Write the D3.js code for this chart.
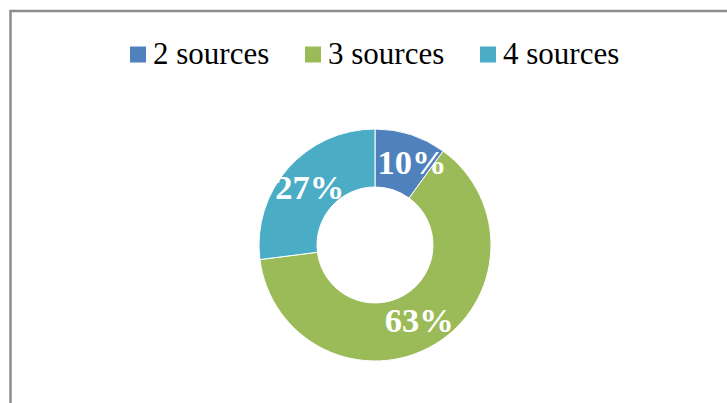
<!DOCTYPE html>
<html>
<head>
<script src="https://cdnjs.cloudflare.com/ajax/libs/d3/7.8.5/d3.min.js"></script>
<style>
  body { margin: 0; background: #fff; }
  svg { display: block; font-family: "Liberation Serif", "Times New Roman", serif; }
</style>
</head>
<body>
<div id="vis"></div>
<script type="text/javascript">

    const categories = ["2 sources", "3 sources", "4 sources"];
    const shares = [10, 63, 27];
    const colors = ["#4F81BD", "#9BBB59", "#4BACC6"];

    const W = 727, H = 403;
    const cx = 375, cy = 245, rOuter = 116, rInner = 58;

    const svg = d3.select("#vis").append("svg").attr("width", W).attr("height", H);

    // chart frame (only top and left edges show in the crop)
    svg.append("rect")
        .attr("x", 10.5).attr("y", 11)
        .attr("width", 760).attr("height", 420)
        .style("fill", "#fff")
        .style("stroke", "#8c8c8c")
        .style("stroke-width", 2.5);

    const color = d3.scaleOrdinal().domain(categories).range(colors);

    // legend
    const legendX = d3.scalePoint().domain(categories).range([130, 480]);
    const legend = svg.append("g").selectAll("g")
        .data(categories)
        .join("g")
        .attr("transform", d => `translate(${legendX(d)},0)`);
    legend.append("rect")
        .attr("x", 0).attr("y", 46.5)
        .attr("width", 16).attr("height", 16)
        .style("fill", d => color(d));
    legend.append("text")
        .attr("x", 23).attr("y", 63.5)
        .style("font-size", "31px")
        .style("fill", "#000")
        .text(d => d);

    // donut
    const pie = d3.pie().sort(null).value(d => d.v);
    const arcs = pie(categories.map((c, i) => ({c: c, v: shares[i]})));
    const arc = d3.arc().innerRadius(rInner).outerRadius(rOuter);

    const g = svg.append("g").attr("transform", `translate(${cx},${cy})`);
    g.selectAll("path")
        .data(arcs)
        .join("path")
        .attr("d", arc)
        .style("fill", d => color(d.data.c))
        .style("stroke", "#fff")
        .style("stroke-width", 1);

    // labels at the ring centroid; the thin slice's label is pushed clockwise a bit
    function labelPos(d) {
        const p = arc.centroid(d);
        if (d.endAngle - d.startAngle < 0.8) p[0] += 10;
        return p;
    }

    g.selectAll("text")
        .data(arcs)
        .join("text")
        .attr("transform", d => `translate(${labelPos(d)})`)
        .attr("text-anchor", "middle")
        .attr("dy", "0.34em")
        .style("font-size", "34.5px")
        .style("font-weight", "bold")
        .style("fill", "#fff")
        .text(d => d.data.v + "%");

</script>
</body>
</html>
